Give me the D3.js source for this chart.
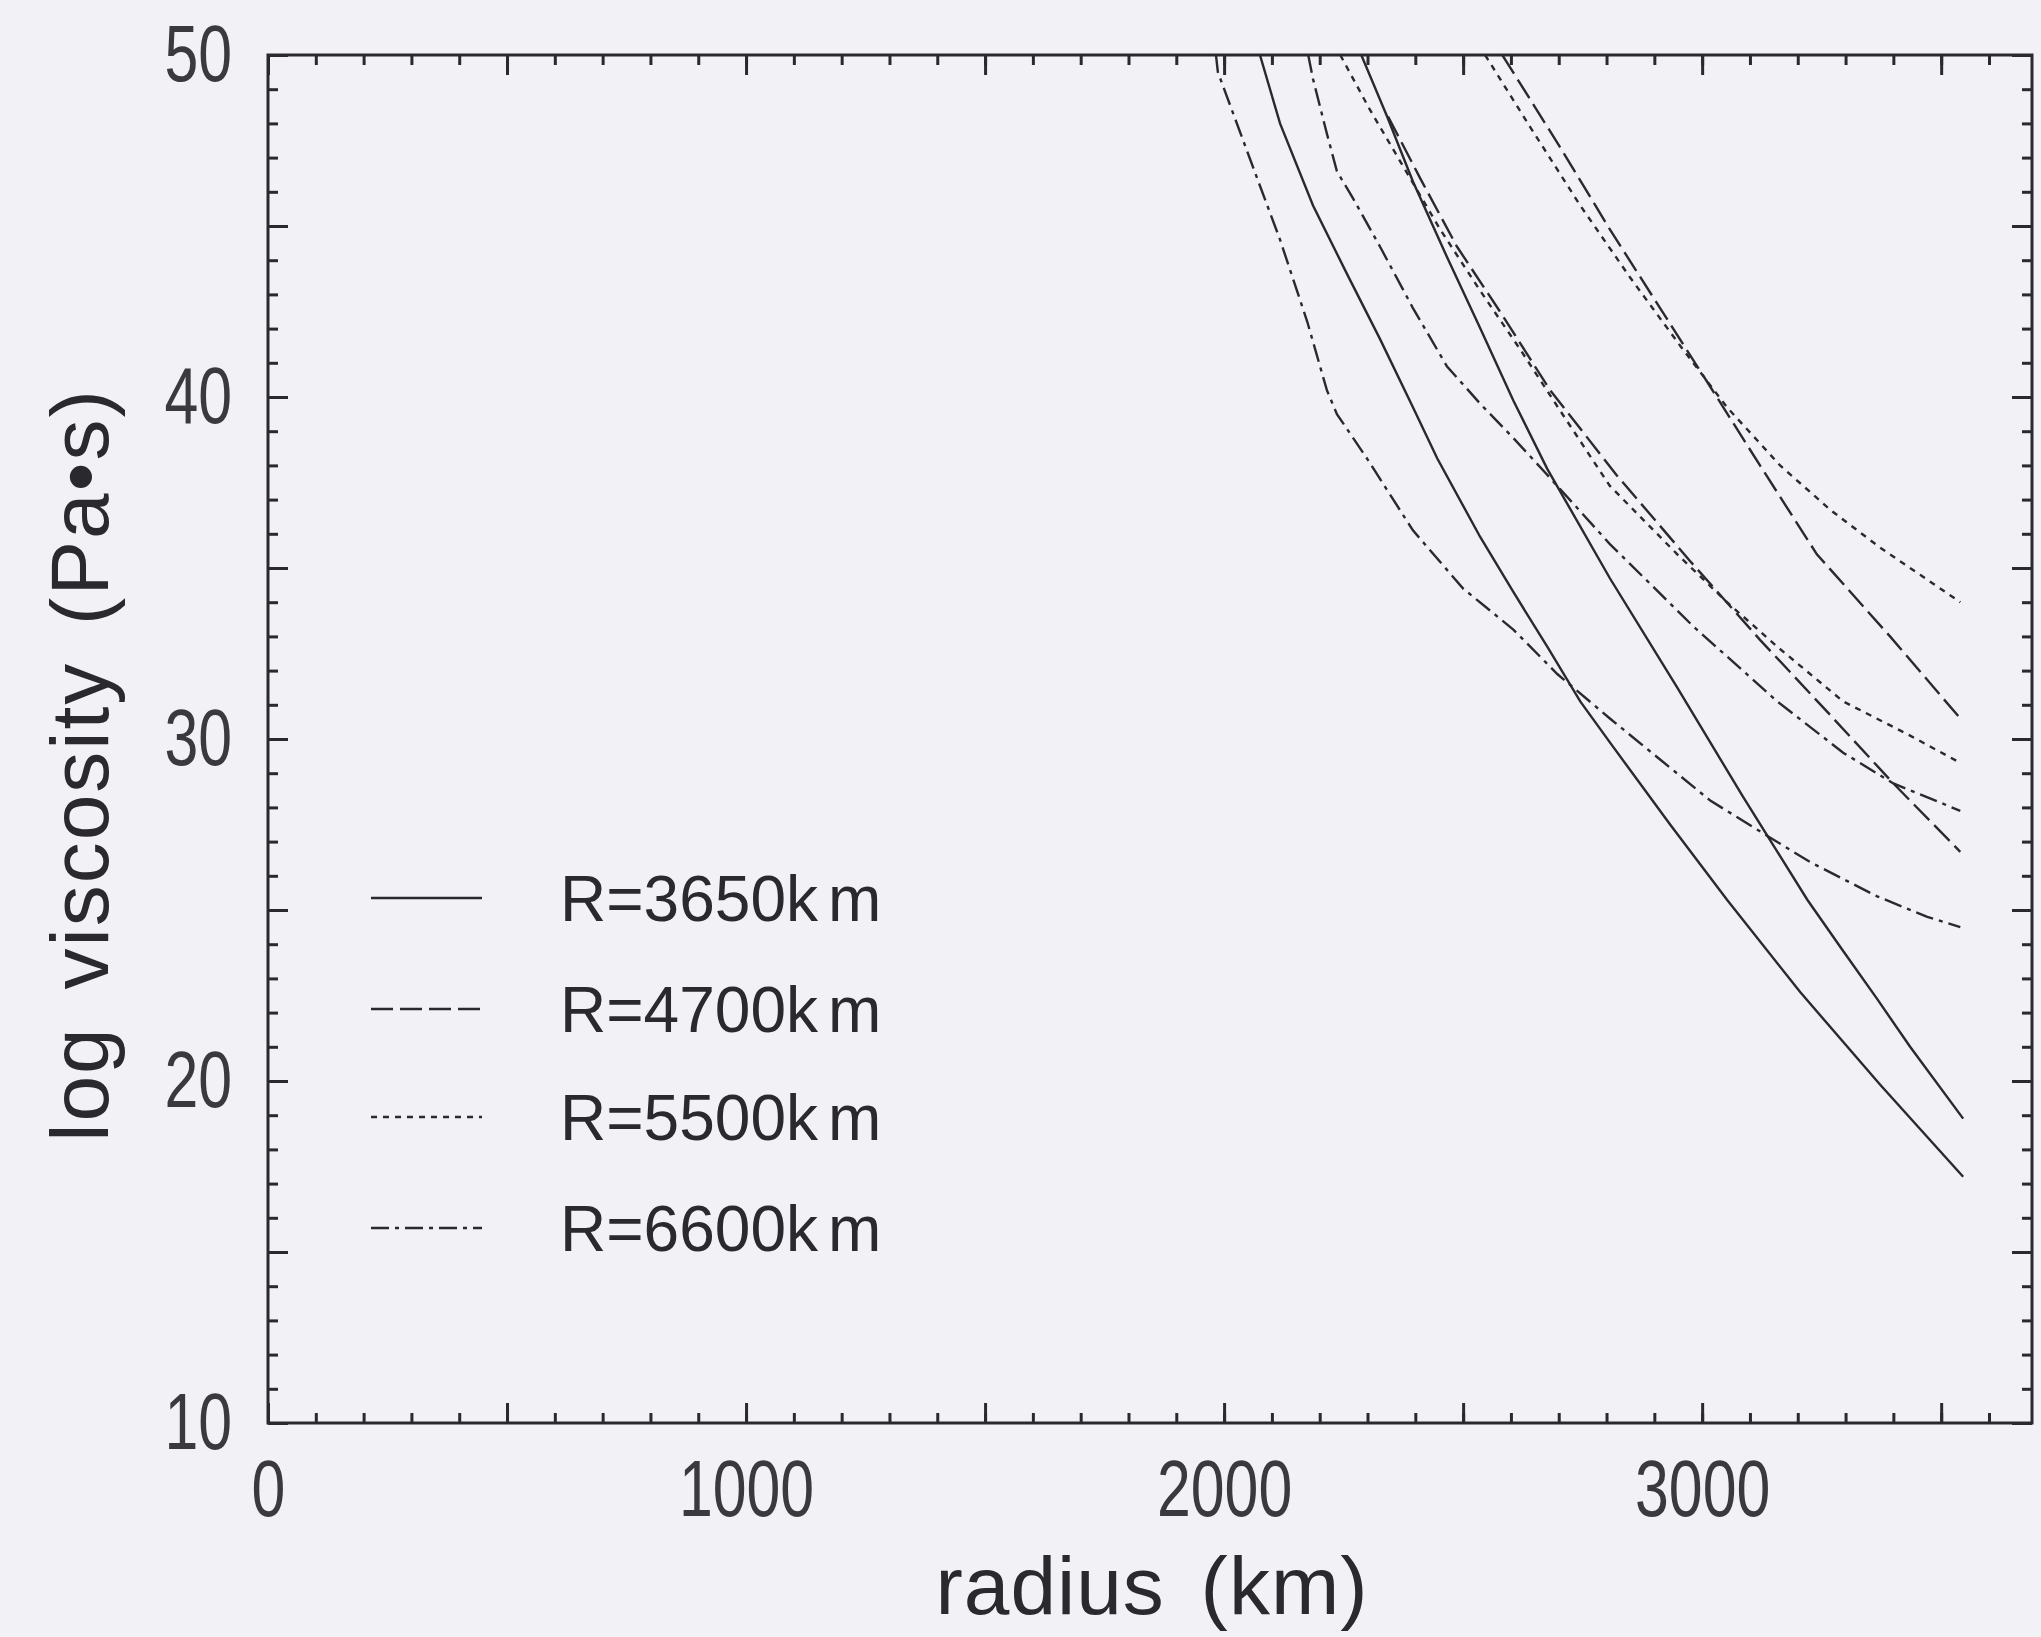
<!DOCTYPE html>
<html>
<head>
<meta charset="utf-8">
<script src="https://cdn.jsdelivr.net/npm/d3@7"></script>
<style>
  html, body { margin: 0; padding: 0; background: #f2f1f5; }
  svg { display: block; }
</style>
</head>
<body>
<script>
// ---------------- data ----------------
const xTickLabels = [0, 1000, 2000, 3000];
const yTickLabels = [10, 20, 30, 40, 50];
const legendLabels = ["R=3650km", "R=4700km", "R=5500km", "R=6600km"];

// R=3650km (solid), two curves
const r3650a = [2075, 2117, 2186, 2257, 2326, 2395, 2446, 2536, 2605, 2676, 2745, 2807, 2933, 3052, 3205, 3372, 3546];
const v3650a = [50.0, 48.0, 45.6, 43.6, 41.7, 39.7, 38.2, 35.9, 34.3, 32.7, 31.1, 29.9, 27.5, 25.3, 22.6, 19.9, 17.2];
const r3650b = [2287, 2341, 2395, 2466, 2536, 2605, 2676, 2807, 2948, 3086, 3220, 3295, 3366, 3435, 3546];
const v3650b = [50.0, 48.2, 46.3, 44.1, 42.0, 39.9, 37.9, 34.7, 31.5, 28.3, 25.3, 23.8, 22.4, 21.0, 18.9];

// R=4700km (long dash)
const r4700a = [2343, 2410, 2487, 2577, 2682, 2822, 2975, 3121, 3268, 3400, 3540];
const v4700a = [48.2, 46.4, 44.4, 42.5, 40.2, 37.7, 35.2, 32.9, 30.7, 28.7, 26.7];
const r4700b = [2582, 2703, 2807, 2912, 3017, 3121, 3240, 3393, 3540];
const v4700b = [50.0, 47.3, 44.9, 42.6, 40.3, 38.0, 35.4, 33.0, 30.6];

// R=5500km (dotted)
const r5500a = [2243, 2305, 2368, 2452, 2536, 2619, 2703, 2807, 2948, 3052, 3157, 3295, 3435, 3540];
const v5500a = [50.0, 48.4, 46.9, 44.9, 43.1, 41.4, 39.6, 37.4, 35.4, 34.0, 32.7, 31.1, 30.1, 29.3];
const r5500b = [2546, 2640, 2745, 2849, 2954, 3052, 3163, 3268, 3372, 3456, 3540];
const v5500b = [50.0, 47.9, 45.6, 43.5, 41.5, 39.7, 38.0, 36.7, 35.6, 34.8, 34.0];

// R=6600km (dash-dot)
const r6600a = [1983, 1987, 2069, 2117, 2174, 2215, 2236, 2299, 2395, 2500, 2605, 2697, 2807, 2912, 3017, 3121, 3226, 3366, 3471, 3540];
const v6600a = [50.0, 49.5, 46.4, 44.6, 42.2, 40.2, 39.5, 38.2, 36.1, 34.4, 33.2, 31.9, 30.6, 29.4, 28.2, 27.3, 26.4, 25.4, 24.8, 24.5];
const r6600b = [2176, 2186, 2215, 2236, 2270, 2326, 2395, 2466, 2536, 2605, 2671, 2807, 2981, 3157, 3295, 3400, 3540];
const v6600b = [50.0, 49.3, 47.7, 46.6, 45.8, 44.4, 42.6, 40.9, 39.8, 38.8, 37.8, 35.7, 33.3, 31.1, 29.6, 28.7, 27.9];

// ---------------- chart ----------------
const W = 2041, H = 1637;
const plot = { left: 268, right: 2032, top: 55, bottom: 1423 };
const ink = "#2a2a2e";

const dashes = {
  "R=3650km": null,
  "R=4700km": "22,7",
  "R=5500km": "6,6",
  "R=6600km": "18,6,4,6"
};

const series = [
  { key: "R=3650km", r: r3650a, v: v3650a },
  { key: "R=3650km", r: r3650b, v: v3650b },
  { key: "R=4700km", r: r4700a, v: v4700a },
  { key: "R=4700km", r: r4700b, v: v4700b },
  { key: "R=5500km", r: r5500a, v: v5500a },
  { key: "R=5500km", r: r5500b, v: v5500b },
  { key: "R=6600km", r: r6600a, v: v6600a },
  { key: "R=6600km", r: r6600b, v: v6600b }
];

const x = d3.scaleLinear().domain([0, 3690]).range([plot.left, plot.right]);
const y = d3.scaleLinear().domain([10, 50]).range([plot.bottom, plot.top]);

const svg = d3.select("body").append("svg")
  .attr("width", W).attr("height", H)
  .attr("viewBox", `0 0 ${W} ${H}`);

svg.append("rect").attr("width", W).attr("height", H).attr("fill", "#f2f1f5");

svg.append("clipPath").attr("id", "clip")
  .append("rect")
  .attr("x", plot.left).attr("y", plot.top)
  .attr("width", plot.right - plot.left).attr("height", plot.bottom - plot.top);

// ticks (inward on all four sides)
function styleTicks(g) {
  g.select(".domain").remove();
  g.selectAll(".tick line").attr("stroke", ink).attr("stroke-width", 3);
}
const xMinor = d3.range(0, 3700, 100);
const xMajor = d3.range(0, 3700, 500);
const yMinor = d3.range(10, 51, 1);
const yMajor = d3.range(10, 51, 5);

svg.append("g").attr("transform", `translate(0,${plot.bottom})`)
  .call(d3.axisBottom(x).tickValues(xMinor).tickSize(-10).tickFormat("")).call(styleTicks);
svg.append("g").attr("transform", `translate(0,${plot.bottom})`)
  .call(d3.axisBottom(x).tickValues(xMajor).tickSize(-20).tickFormat("")).call(styleTicks);
svg.append("g").attr("transform", `translate(0,${plot.top})`)
  .call(d3.axisTop(x).tickValues(xMinor).tickSize(-10).tickFormat("")).call(styleTicks);
svg.append("g").attr("transform", `translate(0,${plot.top})`)
  .call(d3.axisTop(x).tickValues(xMajor).tickSize(-20).tickFormat("")).call(styleTicks);
svg.append("g").attr("transform", `translate(${plot.left},0)`)
  .call(d3.axisLeft(y).tickValues(yMinor).tickSize(-10).tickFormat("")).call(styleTicks);
svg.append("g").attr("transform", `translate(${plot.left},0)`)
  .call(d3.axisLeft(y).tickValues(yMajor).tickSize(-20).tickFormat("")).call(styleTicks);
svg.append("g").attr("transform", `translate(${plot.right},0)`)
  .call(d3.axisRight(y).tickValues(yMinor).tickSize(-10).tickFormat("")).call(styleTicks);
svg.append("g").attr("transform", `translate(${plot.right},0)`)
  .call(d3.axisRight(y).tickValues(yMajor).tickSize(-20).tickFormat("")).call(styleTicks);

// frame
svg.append("rect")
  .attr("x", plot.left).attr("y", plot.top)
  .attr("width", plot.right - plot.left).attr("height", plot.bottom - plot.top)
  .attr("fill", "none").attr("stroke", ink).attr("stroke-width", 3);

// tick labels (tall, condensed digits)
const tickFont = "'Liberation Sans', Arial, sans-serif";
const squeeze = 0.76;
const xLab = svg.append("g").attr("transform", `translate(0,${plot.bottom})`)
  .call(d3.axisBottom(x).tickValues(xTickLabels).tickSize(0).tickPadding(36).tickFormat(d3.format("d")));
xLab.select(".domain").remove();
xLab.selectAll("text")
  .attr("font-family", tickFont).attr("font-size", 80).attr("fill", "#3a3a3e")
  .attr("transform", `scale(${squeeze},1)`);

const yLab = svg.append("g").attr("transform", `translate(${plot.left},0)`)
  .call(d3.axisLeft(y).tickValues(yTickLabels).tickSize(0).tickPadding(36).tickFormat(d3.format("d")));
yLab.select(".domain").remove();
yLab.selectAll("text")
  .attr("font-family", tickFont).attr("font-size", 80).attr("fill", "#3a3a3e")
  .attr("x", -36 / squeeze)
  .attr("transform", `scale(${squeeze},1)`);

// axis titles
const titleFont = "'Liberation Sans', Arial, sans-serif";
svg.append("text")
  .attr("x", 1152).attr("y", 1614)
  .attr("text-anchor", "middle")
  .attr("font-family", titleFont).attr("font-size", 82)
  .attr("word-spacing", 12).attr("letter-spacing", 1)
  .attr("fill", "#2a2a2e")
  .text("radius (km)");
svg.append("text")
  .attr("transform", "translate(79,765) rotate(-90)")
  .attr("text-anchor", "middle").attr("dominant-baseline", "central")
  .attr("font-family", titleFont).attr("font-size", 82)
  .attr("word-spacing", 12).attr("letter-spacing", 2)
  .attr("fill", "#2a2a2e")
  .text("log viscosity (Pa\u2022s)");

// curves
const line = d3.line().x(d => x(d[0])).y(d => y(d[1]));
svg.append("g").attr("clip-path", "url(#clip)")
  .selectAll("path").data(series).join("path")
  .attr("d", s => line(s.r.map((r, i) => [r, s.v[i]])))
  .attr("fill", "none")
  .attr("stroke", ink)
  .attr("stroke-width", 2.4)
  .attr("stroke-dasharray", s => dashes[s.key]);

// legend
const legendY = [898, 1009, 1117, 1228];
const leg = svg.append("g");
legendLabels.forEach((lab, i) => {
  leg.append("line")
    .attr("x1", 371).attr("x2", 482)
    .attr("y1", legendY[i]).attr("y2", legendY[i])
    .attr("stroke", ink).attr("stroke-width", 2.4)
    .attr("stroke-dasharray", dashes[lab]);
  const t = leg.append("text")
    .attr("x", 560).attr("y", legendY[i] + 23)
    .attr("font-family", titleFont).attr("font-size", 64)
    .attr("fill", "#2a2a2e");
  t.append("tspan").text(lab.slice(0, -1));
  t.append("tspan").attr("dx", 10).text(lab.slice(-1));
});
</script>
</body>
</html>
